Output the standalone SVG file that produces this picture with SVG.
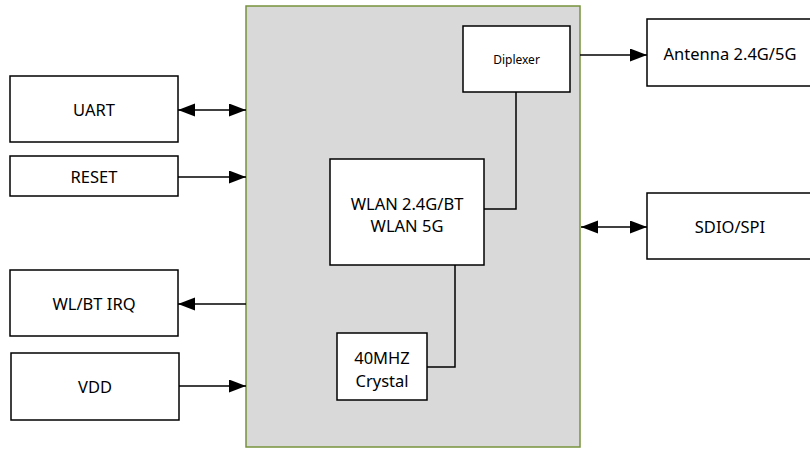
<svg xmlns="http://www.w3.org/2000/svg" width="810" height="450" viewBox="0 0 810 450">
<style>
.box{fill:#fff;stroke:#000;stroke-width:1.5}
.t{font-family:"Noto Sans","Open Sans","DejaVu Sans",sans-serif;font-size:16.5px;fill:#000;text-anchor:middle;dominant-baseline:central}
.s{font-size:12px}
.c{fill:none;stroke:#000;stroke-width:1.5}
</style>
<defs>
<marker id="ah" markerUnits="userSpaceOnUse" markerWidth="18" markerHeight="14" refX="17" refY="6.5" orient="auto-start-reverse">
<path d="M0,0 L17,6.5 L0,13 Z" fill="#000"/>
</marker>
</defs>
<g id="chip">
<rect x="246" y="6" width="334" height="441" fill="#d9d9d9" stroke="#77933c" stroke-width="1.5"/>
</g>
<g id="diplexer"><rect class="box" x="463" y="26" width="107" height="66"/><text class="t s" x="516.5" y="59">Diplexer</text></g>
<g id="wlan"><rect class="box" x="330" y="159" width="154" height="106"/><text class="t" x="407" y="203">WLAN 2.4G/BT</text><text class="t" x="407" y="225">WLAN 5G</text></g>
<g id="crystal"><rect class="box" x="337" y="333" width="90" height="67"/><text class="t" x="382" y="357">40MHZ</text><text class="t" x="382" y="380">Crystal</text></g>
<g id="uart"><rect class="box" x="10" y="76" width="168" height="66"/><text class="t" x="94" y="109">UART</text></g>
<g id="reset"><rect class="box" x="10" y="156" width="168" height="40"/><text class="t" x="94" y="176">RESET</text></g>
<g id="irq"><rect class="box" x="10" y="270" width="168" height="66"/><text class="t" x="94" y="303">WL/BT IRQ</text></g>
<g id="vdd"><rect class="box" x="11" y="353" width="168" height="67"/><text class="t" x="95" y="386">VDD</text></g>
<g id="antenna"><rect class="box" x="647" y="19" width="170" height="67"/><text class="t" x="730" y="53">Antenna 2.4G/5G</text></g>
<g id="sdio"><rect class="box" x="647" y="193" width="170" height="66"/><text class="t" x="730" y="226">SDIO/SPI</text></g>
<g id="connectors">
<path class="c" d="M178,110 H246" marker-start="url(#ah)" marker-end="url(#ah)"/>
<path class="c" d="M178,177 H246" marker-end="url(#ah)"/>
<path class="c" d="M246,304 H178" marker-end="url(#ah)"/>
<path class="c" d="M179,386 H246" marker-end="url(#ah)"/>
<path class="c" d="M580,55 H647" marker-end="url(#ah)"/>
<path class="c" d="M581,227 H647" marker-start="url(#ah)" marker-end="url(#ah)"/>
<path class="c" d="M516,92 V209 H484"/>
<path class="c" d="M455,265 V367 H427"/>
</g>
</svg>
